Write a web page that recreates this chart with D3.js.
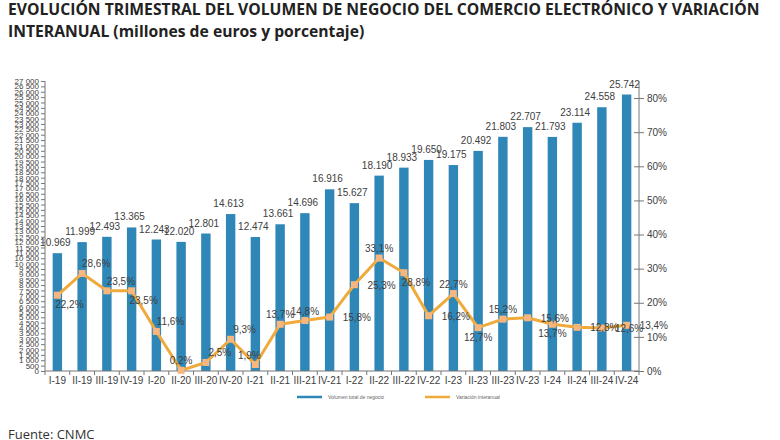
<!DOCTYPE html>
<html><head><meta charset="utf-8">
<script src="https://cdn.jsdelivr.net/npm/d3@7"></script>
<style>
html,body{margin:0;padding:0;background:#fff;}
svg{display:block;}
</style></head>
<body>
<svg id="c" width="780" height="440"></svg>
<script>
const categories = ["I-19","II-19","III-19","IV-19","I-20","II-20","III-20","IV-20","I-21","II-21","III-21","IV-21","I-22","II-22","III-22","IV-22","I-23","II-23","III-23","IV-23","I-24","II-24","III-24","IV-24"];
const volumen = [10969,11999,12493,13365,12243,12020,12801,14613,12474,13661,14696,16916,15627,18190,18933,19650,19175,20492,21803,22707,21793,23114,24558,25742];
const variacion = [22.2,28.6,23.5,23.5,11.6,0.2,2.5,9.3,1.9,13.7,14.8,15.8,25.3,33.1,28.8,16.2,22.7,12.7,15.2,15.6,13.7,12.8,12.6,13.4];
const leftTicks = d3.range(0, 27001, 500);
const rightTicks = [0,10,20,30,40,50,60,70,80];
const seriesNames = ["Volumen total de negocio","Variación interanual"];
const titleLines = ["EVOLUCIÓN TRIMESTRAL DEL VOLUMEN DE NEGOCIO DEL COMERCIO ELECTRÓNICO Y VARIACIÓN","INTERANUAL (millones de euros y porcentaje)"];
const source = "Fuente: CNMC";

// label placement for line labels (style only)
const labelPlace = ["br","ar","ar","br","ar","a","ar","ar","al","a","a","r","r","a","br","r","a","b","a","r","b","r","r","r"];

(function(){
const svg = d3.select("#c");
const pL = 45, pR = 639, pT = 81, pB = 371;
const barColor = "#2F87B8", lineColor = "#F0AA3C", markColor = "#F6B67E", txt = "#404040";

const esDot = d3.formatLocale({decimal:",", thousands:".", grouping:[3], currency:["",""]});
const esSp = d3.formatLocale({decimal:",", thousands:" ", grouping:[3], currency:["",""]});
const fmtBar = esDot.format(",d");
const fmtLeft = esSp.format(",d");
const fmtPct = v => esDot.format(".1f")(v) + "%";

const x = d3.scaleBand().domain(categories).range([pL, pR]).paddingInner(0.62).paddingOuter(0.31);
const yL = d3.scaleLinear().domain([0, 27000]).range([pB, pT]);
const yR = d3.scaleLinear().domain([0, 85]).range([pB, pT]);

// Title
const tg = svg.append("g");
titleLines.forEach((t,i)=>{
  tg.append("text").attr("x", 8).attr("y", 15 + i*22)
    .attr("font-family","'Open Sans', sans-serif").attr("font-weight", 700)
    .attr("font-size", 15).attr("fill","#222").text(t);
});
const w0 = tg.select("text").node().getComputedTextLength();
tg.selectAll("text").attr("font-size", 15 * 752 / w0);

// Bars
svg.append("g").selectAll("rect").data(volumen).join("rect")
  .attr("x",(d,i)=>x(categories[i])).attr("width", x.bandwidth())
  .attr("y", d=>yL(d)).attr("height", d=>yL(0)-yL(d)).attr("fill", barColor);

// Bar labels
svg.append("g").selectAll("text").data(volumen).join("text")
  .attr("x",(d,i)=>x(categories[i])+x.bandwidth()/2 - 2).attr("y", d=>yL(d)-7)
  .attr("text-anchor","middle").attr("font-family","'Liberation Sans', Arial, sans-serif")
  .attr("font-size", 10).attr("fill", txt).text(d=>fmtBar(d));

// Left axis
const ax = svg.append("g").attr("transform",`translate(${pL},0)`)
  .call(d3.axisLeft(yL).tickValues(leftTicks).tickSize(4).tickPadding(2).tickFormat(fmtLeft));
ax.select(".domain").attr("stroke","#777").attr("d",`M0,${pT}V${pB}`);
ax.selectAll(".tick line").attr("stroke","#777");
ax.selectAll("text").attr("font-family","'Liberation Sans', Arial, sans-serif").attr("font-size",8).attr("fill",txt);

// Right axis
const ar = svg.append("g").attr("transform",`translate(${pR},0)`)
  .call(d3.axisRight(yR).tickValues(rightTicks).tickSize(5).tickPadding(3).tickFormat(d=>d+"%"));
ar.select(".domain").attr("stroke","#777").attr("d",`M0,${pT}V${pB}`);
ar.selectAll(".tick line").attr("stroke","#777").attr("x1",-5).attr("x2",5);
ar.selectAll("text").attr("font-family","'Liberation Sans', Arial, sans-serif").attr("font-size",10).attr("fill",txt);

// X axis
const xa = svg.append("g").attr("transform",`translate(0,${pB})`)
  .call(d3.axisBottom(x).tickSize(0).tickPadding(6));
xa.select(".domain").attr("stroke","#777").attr("d",`M${pL},0H${pR}`);
xa.selectAll("text").attr("font-family","'Liberation Sans', Arial, sans-serif").attr("font-size",10).attr("fill",txt);
svg.append("g").selectAll("line").data(d3.range(categories.length+1)).join("line")
  .attr("x1",i=>pL + i*x.step()).attr("x2",i=>pL + i*x.step())
  .attr("y1",pB).attr("y2",pB+4).attr("stroke","#777");

// Line
const cx = i => x(categories[i]) + x.bandwidth()/2;
const line = d3.line().x((d,i)=>cx(i)).y(d=>yR(d));
svg.append("path").datum(variacion).attr("d", line).attr("fill","none")
  .attr("stroke", lineColor).attr("stroke-width", 3).attr("stroke-linejoin","round");
svg.append("g").selectAll("rect").data(variacion).join("rect")
  .attr("x",(d,i)=>cx(i)-3.5).attr("y",d=>yR(d)-3.5).attr("width",7).attr("height",7)
  .attr("fill", markColor);

// Line labels
const offs = {a:[0,-6], b:[0,13], r:[13,4], ar:[14,-6], br:[12,13], al:[-6,-6]};
svg.append("g").selectAll("text").data(variacion).join("text")
  .attr("x",(d,i)=>cx(i)+offs[labelPlace[i]][0])
  .attr("y",(d,i)=>yR(d)+offs[labelPlace[i]][1])
  .attr("text-anchor",(d,i)=>labelPlace[i]==="r"?"start":"middle")
  .attr("font-family","'Liberation Sans', Arial, sans-serif").attr("font-size",10)
  .attr("fill", txt).text(d=>fmtPct(d));

// Legend
const lg = svg.append("g").attr("font-family","'Liberation Sans', Arial, sans-serif").attr("font-size",5).attr("fill","#666");
[[297, barColor, seriesNames[0]],[425, lineColor, seriesNames[1]]].forEach(([lx,c,n])=>{
  lg.append("line").attr("x1",lx).attr("x2",lx+25).attr("y1",397).attr("y2",397).attr("stroke",c).attr("stroke-width",2.5);
  lg.append("text").attr("x",lx+31).attr("y",399).text(n);
});

// Source
svg.append("text").attr("x",8).attr("y",439).attr("font-family","'Open Sans', sans-serif")
  .attr("font-size",13).attr("fill","#333").text(source);
})();
</script>
</body></html>
